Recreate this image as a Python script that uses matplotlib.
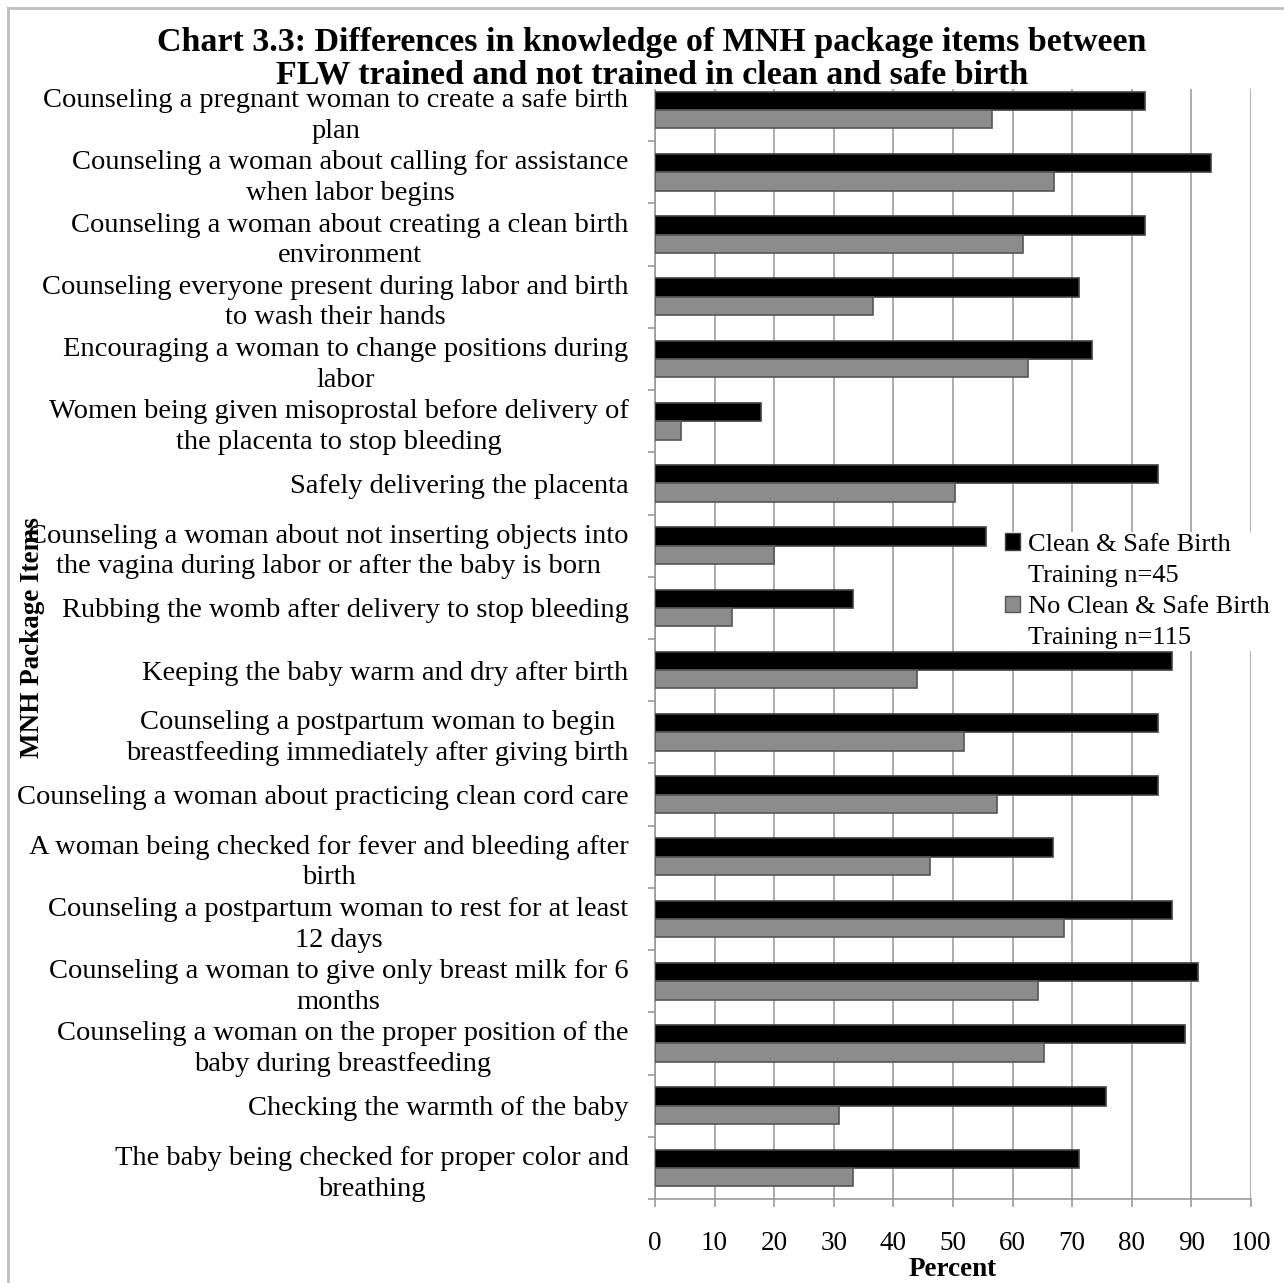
import numpy as np
import matplotlib
matplotlib.use("Agg")
import matplotlib.pyplot as plt
from matplotlib.patches import Patch, Rectangle
from matplotlib.lines import Line2D

plt.rcParams['font.family'] = ['Liberation Serif', 'DejaVu Serif']

items = [
    "Counseling a pregnant woman to create a safe birth\nplan",
    "Counseling a woman about calling for assistance\nwhen labor begins",
    "Counseling a woman about creating a clean birth\nenvironment",
    "Counseling everyone present during labor and birth\nto wash their hands",
    "Encouraging a woman to change positions during\nlabor",
    "Women being given misoprostal before delivery of\nthe placenta to stop bleeding",
    "Safely delivering the placenta",
    "Counseling a woman about not inserting objects into\nthe vagina during labor or after the baby is born",
    "Rubbing the womb after delivery to stop bleeding",
    "Keeping the baby warm and dry after birth",
    "Counseling a postpartum woman to begin\nbreastfeeding immediately after giving birth",
    "Counseling a woman about practicing clean cord care",
    "A woman being checked for fever and bleeding after\nbirth",
    "Counseling a postpartum woman to rest for at least\n12 days",
    "Counseling a woman to give only breast milk for 6\nmonths",
    "Counseling a woman on the proper position of the\nbaby during breastfeeding",
    "Checking the warmth of the baby",
    "The baby being checked for proper color and\nbreathing",
]

trained = [82.2, 93.3, 82.2, 71.1, 73.3, 17.8, 84.4, 55.6, 33.3,
           86.7, 84.4, 84.4, 66.7, 86.7, 91.1, 88.9, 75.6, 71.1]
not_trained = [56.5, 67.0, 61.7, 36.5, 62.6, 4.3, 50.4, 20.0, 13.0,
               43.9, 51.8, 57.4, 46.1, 68.7, 64.3, 65.2, 30.8, 33.3]

series_names = ["Clean & Safe Birth", "No Clean & Safe Birth"]
series_notes = ["Training n=45", "Training n=115"]
x_ticks = list(range(0, 101, 10))

W, H = 1284, 1283


def fx(px):
    return px / W


def fy(py):
    return 1 - py / H


fig = plt.figure(figsize=(W / 100, H / 100), dpi=100)
ax = fig.add_axes([fx(655), fy(1199), fx(1251) - fx(655), fy(79) - fy(1199)])

y = np.arange(len(items))
h = 0.294
ax.barh(y - h / 2, trained, height=h, color='black', edgecolor='#404040', linewidth=1.2, zorder=3)
ax.barh(y + h / 2, not_trained, height=h, color='#8c8c8c', edgecolor='#555555', linewidth=1.2, zorder=3)

ax.set_xlim(0, 100)
ax.set_ylim(len(items) - 0.5, -0.5)

ax.set_yticks(y)
ax.set_yticklabels(items, fontsize=20.5, ha='right', multialignment='center', linespacing=1.3)
ax.set_yticks(np.arange(-0.5, len(items), 1), minor=True)
ax.tick_params(axis='y', which='major', length=0, pad=19)
ax.tick_params(axis='y', which='minor', length=5, width=1.2, color='#999999', direction='out')

ax.set_xticks(x_ticks)
ax.set_xticklabels([str(t) for t in x_ticks], fontsize=19.5)
ax.tick_params(axis='x', length=6, width=1.2, color='#999999', pad=17)

ax.xaxis.grid(True, color='#a6a6a6', linewidth=1.3)
ax.set_axisbelow(True)
for s in ['top', 'right']:
    ax.spines[s].set_visible(False)
for s in ['left', 'bottom']:
    ax.spines[s].set_color('#999999')
    ax.spines[s].set_linewidth(1.2)

# white strip behind title hides the top of the gridlines
fig.add_artist(Rectangle((0, fy(89)), 1, 89 / H, transform=fig.transFigure,
                         facecolor='white', edgecolor='none', zorder=1))

fig.text(fx(652), fy(59),
         "Chart 3.3: Differences in knowledge of MNH package items between\n"
         "FLW trained and not trained in clean and safe birth",
         ha='center', va='center', multialignment='center', fontsize=24.5,
         fontweight='bold', linespacing=1.07, zorder=3)

fig.text(fx(953), fy(1269), "Percent", ha='center', va='center', fontsize=19.5, fontweight='bold')
fig.text(fx(33), fy(638), "MNH Package Items", ha='center', va='center', rotation=90,
         fontsize=19.5, fontweight='bold', zorder=3)

# legend: one entry per text line so the swatch sits on the first line
handles = [
    Patch(facecolor='black', edgecolor='#404040'),
    Patch(facecolor='none', edgecolor='none'),
    Patch(facecolor='#8c8c8c', edgecolor='#555555'),
    Patch(facecolor='none', edgecolor='none'),
]
labels = [series_names[0], series_notes[0], series_names[1], series_notes[1]]
leg = fig.legend(handles, labels, loc='upper left', bbox_to_anchor=(fx(1004), fy(532)),
                 frameon=True, fancybox=False, framealpha=1, edgecolor='none',
                 facecolor='white', fontsize=19, handlelength=0.55, handleheight=0.6,
                 handletextpad=0.3, labelspacing=0.32, borderpad=0.05, borderaxespad=0)
leg.set_zorder(3)

# chart border (left and top only visible)
fig.add_artist(Line2D([fx(8), fx(8)], [fy(8), 0], transform=fig.transFigure,
                      color='#bfbfbf', linewidth=2, zorder=4))
fig.add_artist(Line2D([fx(8), 1], [fy(8), fy(8)], transform=fig.transFigure,
                      color='#bfbfbf', linewidth=2, zorder=4))

fig.savefig("out.png", dpi=100, facecolor='white')
